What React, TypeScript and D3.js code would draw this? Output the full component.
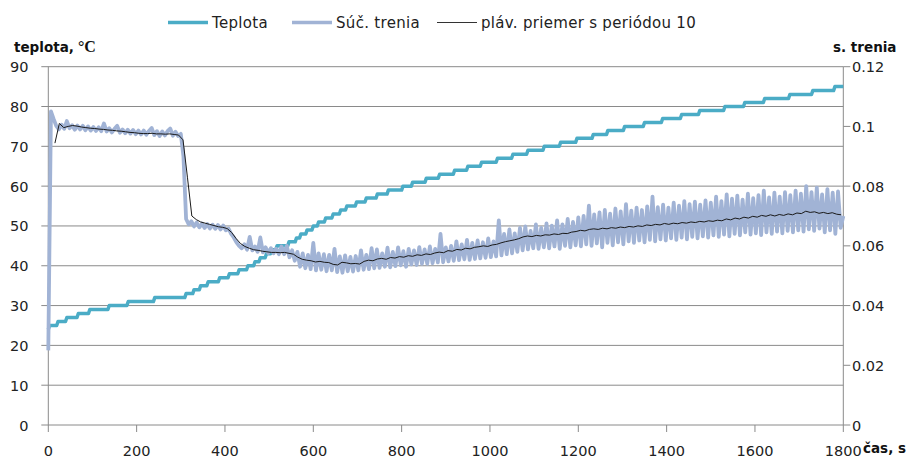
import React from 'react';
import * as d3 from 'd3';

// temperature steps: start time (s) and value (°C)
const tempStepStart = [0, 3, 22, 42, 68, 94, 138, 181, 241, 312, 330, 345, 362, 388, 410, 432, 452, 468, 480, 494,
  506, 518, 545, 562, 572, 586, 600, 612, 628, 645, 662, 676, 698, 720, 745, 770, 803, 825, 856, 886,
  920, 950, 981, 1017, 1052, 1086, 1123, 1160, 1197, 1234, 1267, 1305, 1350, 1391, 1434, 1475, 1532, 1577, 1622, 1679,
  1731, 1781];
const tempStepValue = [24, 25, 26, 27, 28, 29, 30, 31, 32, 33, 34, 35, 36, 37, 38, 39, 40, 41, 42, 43,
  44, 45, 46, 47, 48, 49, 50, 51, 52, 53, 54, 55, 56, 57, 58, 59, 60, 61, 62, 63,
  64, 65, 66, 67, 68, 69, 70, 71, 72, 73, 74, 75, 76, 77, 78, 79, 80, 81, 82, 83,
  84, 85];

// friction coefficient, one reading every 6 s
const frictionStep = 6;
const friction0to300 = [
  0.0250, 0.1050, 0.1025, 0.1002, 0.0990, 0.1006, 0.0992, 0.1018, 0.0994, 0.1004,
  0.0989, 0.1003, 0.0990, 0.1002, 0.0987, 0.1000, 0.0986, 0.0998, 0.0985, 0.0997,
  0.0984, 0.1010, 0.0983, 0.0994, 0.0980, 0.0992, 0.1002, 0.0979, 0.0990, 0.0977,
  0.0989, 0.0976, 0.0988, 0.0974, 0.0986, 0.0973, 0.0986, 0.0972, 0.0985, 0.0995,
  0.0971, 0.0984, 0.0968, 0.0983, 0.0970, 0.0984, 0.0993, 0.0969, 0.0982, 0.0968,
];
const friction300to600 = [
  0.0975, 0.0900, 0.0690, 0.0672, 0.0682, 0.0665, 0.0678, 0.0662, 0.0675, 0.0660,
  0.0673, 0.0658, 0.0671, 0.0657, 0.0670, 0.0655, 0.0668, 0.0652, 0.0658, 0.0640,
  0.0628, 0.0612, 0.0600, 0.0592, 0.0605, 0.0587, 0.0630, 0.0585, 0.0598, 0.0580,
  0.0628, 0.0578, 0.0595, 0.0576, 0.0592, 0.0575, 0.0590, 0.0572, 0.0598, 0.0572,
  0.0600, 0.0562, 0.0585, 0.0550, 0.0580, 0.0530, 0.0575, 0.0525, 0.0570, 0.0522,
];
const friction600to900 = [
  0.0610, 0.0518, 0.0575, 0.0520, 0.0572, 0.0515, 0.0570, 0.0518, 0.0590, 0.0512,
  0.0565, 0.0510, 0.0568, 0.0515, 0.0563, 0.0514, 0.0566, 0.0518, 0.0585, 0.0520,
  0.0570, 0.0522, 0.0592, 0.0525, 0.0588, 0.0526, 0.0575, 0.0530, 0.0594, 0.0528,
  0.0580, 0.0532, 0.0595, 0.0535, 0.0582, 0.0530, 0.0590, 0.0538, 0.0585, 0.0536,
  0.0596, 0.0540, 0.0588, 0.0540, 0.0598, 0.0542, 0.0590, 0.0545, 0.0640, 0.0545,
];
const friction900to1200 = [
  0.0595, 0.0548, 0.0600, 0.0550, 0.0615, 0.0552, 0.0605, 0.0555, 0.0620, 0.0553,
  0.0610, 0.0556, 0.0618, 0.0558, 0.0612, 0.0560, 0.0625, 0.0562, 0.0615, 0.0565,
  0.0685, 0.0568, 0.0640, 0.0572, 0.0655, 0.0575, 0.0642, 0.0580, 0.0660, 0.0585,
  0.0665, 0.0588, 0.0650, 0.0592, 0.0672, 0.0590, 0.0660, 0.0595, 0.0675, 0.0592,
  0.0668, 0.0598, 0.0685, 0.0590, 0.0672, 0.0600, 0.0690, 0.0595, 0.0680, 0.0602,
];
const friction1200to1500 = [
  0.0695, 0.0598, 0.0700, 0.0605, 0.0735, 0.0600, 0.0705, 0.0608, 0.0712, 0.0595,
  0.0720, 0.0610, 0.0708, 0.0602, 0.0725, 0.0612, 0.0715, 0.0605, 0.0740, 0.0615,
  0.0718, 0.0610, 0.0728, 0.0618, 0.0720, 0.0612, 0.0732, 0.0620, 0.0765, 0.0615,
  0.0730, 0.0622, 0.0738, 0.0618, 0.0728, 0.0625, 0.0745, 0.0620, 0.0735, 0.0628,
  0.0750, 0.0622, 0.0740, 0.0630, 0.0748, 0.0625, 0.0738, 0.0632, 0.0752, 0.0628,
];
const friction1500to1800 = [
  0.0745, 0.0635, 0.0765, 0.0630, 0.0750, 0.0638, 0.0772, 0.0632, 0.0758, 0.0640,
  0.0768, 0.0635, 0.0755, 0.0645, 0.0775, 0.0638, 0.0760, 0.0642, 0.0770, 0.0636,
  0.0785, 0.0645, 0.0762, 0.0640, 0.0778, 0.0648, 0.0765, 0.0642, 0.0780, 0.0650,
  0.0770, 0.0645, 0.0785, 0.0652, 0.0775, 0.0648, 0.0800, 0.0655, 0.0780, 0.0650,
  0.0795, 0.0658, 0.0772, 0.0645, 0.0790, 0.0652, 0.0778, 0.0640, 0.0782, 0.0660,
  0.0700,
];

// moving average (period 10), read every 10 s from t = 15 s
const maStart = 15;
const maStep = 10;
const movingAvg = [
  0.0944, 0.1010, 0.0996, 0.1000, 0.1003, 0.1001, 0.0998, 0.0996, 0.0994, 0.0993,
  0.0991, 0.0990, 0.0988, 0.0987, 0.0985, 0.0984, 0.0982, 0.0980, 0.0979, 0.0977,
  0.0976, 0.0976, 0.0977, 0.0975, 0.0975, 0.0974, 0.0975, 0.0973, 0.0971, 0.0955,
  0.0830, 0.0700, 0.0688, 0.0680, 0.0676, 0.0672, 0.0668, 0.0664, 0.0662, 0.0658,
  0.0645, 0.0625, 0.0608, 0.0598, 0.0592, 0.0587, 0.0585, 0.0582, 0.0580, 0.0578,
  0.0578, 0.0577, 0.0578, 0.0575, 0.0572, 0.0562, 0.0555, 0.0552, 0.0550, 0.0546,
  0.0548, 0.0545, 0.0544, 0.0538, 0.0536, 0.0545, 0.0543, 0.0540, 0.0541, 0.0539,
  0.0548, 0.0552, 0.0550, 0.0556, 0.0558, 0.0555, 0.0561, 0.0559, 0.0564, 0.0562,
  0.0567, 0.0565, 0.0570, 0.0568, 0.0573, 0.0571, 0.0576, 0.0579, 0.0577, 0.0584,
  0.0582, 0.0588, 0.0586, 0.0592, 0.0590, 0.0595, 0.0597, 0.0600, 0.0598, 0.0603,
  0.0605, 0.0610, 0.0614, 0.0617, 0.0620, 0.0624, 0.0630, 0.0633, 0.0631, 0.0635,
  0.0633, 0.0637, 0.0636, 0.0640, 0.0638, 0.0642, 0.0641, 0.0646, 0.0648, 0.0652,
  0.0650, 0.0655, 0.0657, 0.0655, 0.0659, 0.0657, 0.0661, 0.0659, 0.0663, 0.0661,
  0.0665, 0.0663, 0.0667, 0.0665, 0.0670, 0.0668, 0.0672, 0.0670, 0.0675, 0.0672,
  0.0676, 0.0674, 0.0678, 0.0676, 0.0680, 0.0678, 0.0682, 0.0680, 0.0684, 0.0682,
  0.0686, 0.0684, 0.0690, 0.0687, 0.0693, 0.0690, 0.0696, 0.0693, 0.0699, 0.0696,
  0.0702, 0.0699, 0.0704, 0.0700, 0.0705, 0.0702, 0.0707, 0.0704, 0.0710, 0.0708,
  0.0716, 0.0712, 0.0714, 0.0709, 0.0712, 0.0708, 0.0711, 0.0706, 0.0704,
];

const xTicks = [0, 200, 400, 600, 800, 1000, 1200, 1400, 1600, 1800];
const leftTicks = [0, 10, 20, 30, 40, 50, 60, 70, 80, 90];
const rightTicks = [0, 0.02, 0.04, 0.06, 0.08, 0.1, 0.12];

const legendItems = ['Teplota', 'Súč. trenia', 'pláv. priemer s periódou 10'];

const W = 907, H = 459;
const font = '"DejaVu Sans", sans-serif';
const gridColor = '#8a8a8a';
const tempColor = '#4bacc6';
const fricColor = '#a1b3d5';

export default function App() {
  const x = d3.scaleLinear().domain([0, 1800]).range([48.3, 843.3]);
  const yL = d3.scaleLinear().domain([0, 90]).range([425, 66.7]);
  const yR = d3.scaleLinear().domain([0, 0.12]).range([425, 66.7]);

  // temperature staircase
  const tempPts: [number, number][] = [];
  tempStepStart.forEach((t, i) => {
    tempPts.push([t, tempStepValue[i]]);
    const next = tempStepStart[i + 1];
    tempPts.push([next !== undefined ? next - 3 : 1800, tempStepValue[i]]);
  });

  const friction = [...friction0to300, ...friction300to600, ...friction600to900,
    ...friction900to1200, ...friction1200to1500, ...friction1500to1800];
  const fricPts: [number, number][] = friction.map((v, i) => [i * frictionStep, v]);
  const maPts: [number, number][] = movingAvg.map((v, i) => [maStart + i * maStep, v]);

  const tempLine = d3.line<[number, number]>().x(d => x(d[0])).y(d => yL(d[1]));
  const rLine = d3.line<[number, number]>().x(d => x(d[0])).y(d => yR(d[1]));

  const x0 = x(0), x1 = x(1800);
  const yTop = yL(90), yBot = yL(0);

  const legendX = [168, 292, 437];
  const legendStyle = [
    { stroke: tempColor, w: 3.5 },
    { stroke: fricColor, w: 3.5 },
    { stroke: '#333', w: 1 },
  ];

  return (
    <svg width={W} height={H} style={{ position: 'absolute', left: 0, top: 0, background: '#fff' }}
      fontFamily={font}>
      {/* gridlines with left tick marks */}
      {leftTicks.map(t => (
        <line key={'g' + t} x1={x0 - 7} x2={x1} y1={yL(t)} y2={yL(t)} stroke={gridColor} strokeWidth={1} />
      ))}
      {/* axes */}
      <line x1={x0} x2={x0} y1={yTop} y2={yBot} stroke={gridColor} />
      <line x1={x1} x2={x1} y1={yTop} y2={yBot} stroke={gridColor} />
      {rightTicks.map(t => (
        <line key={'r' + t} x1={x1} x2={x1 + 7} y1={yR(t)} y2={yR(t)} stroke={gridColor} />
      ))}
      {xTicks.map(t => (
        <line key={'x' + t} x1={x(t)} x2={x(t)} y1={yBot} y2={yBot + 7} stroke={gridColor} />
      ))}

      {/* series */}
      <path d={tempLine(tempPts) ?? ''} fill="none" stroke={tempColor} strokeWidth={3.5} strokeLinejoin="round" />
      <path d={rLine(fricPts) ?? ''} fill="none" stroke={fricColor} strokeWidth={3.8} strokeLinejoin="round" />
      <path d={rLine(maPts) ?? ''} fill="none" stroke="#1a1a1a" strokeWidth={1} strokeLinejoin="round" />

      {/* tick labels */}
      {leftTicks.map(t => (
        <text key={'lt' + t} x={28.5} y={yL(t) + 5.5} textAnchor="end" fontSize={14.5} fill="#222">{t}</text>
      ))}
      {rightTicks.map(t => (
        <text key={'rt' + t} x={852} y={yR(t) + 5.5} fontSize={14.5} fill="#222">{String(t)}</text>
      ))}
      {xTicks.map(t => (
        <text key={'xt' + t} x={x(t)} y={456} textAnchor="middle" fontSize={14.5} fill="#222">{t}</text>
      ))}

      {/* axis titles */}
      <text x={14} y={52} fontSize={13.5} fontWeight="bold" fill="#111">
        teplota,
        <tspan fontFamily='"Liberation Serif", serif' fontSize={16} dx={4}>°C</tspan>
      </text>
      <text x={833} y={52} fontSize={13.5} fontWeight="bold" fill="#111">s. trenia</text>
      <text x={863} y={453} fontSize={13.5} fontWeight="bold" fill="#111">čas, s</text>

      {/* legend */}
      {legendItems.map((name, i) => (
        <g key={name}>
          <line x1={legendX[i]} x2={legendX[i] + 40} y1={22.5} y2={22.5}
            stroke={legendStyle[i].stroke} strokeWidth={legendStyle[i].w} />
          <text x={legendX[i] + 44} y={28} fontSize={15} letterSpacing={0.3} fill="#222">{name}</text>
        </g>
      ))}
    </svg>
  );
}
